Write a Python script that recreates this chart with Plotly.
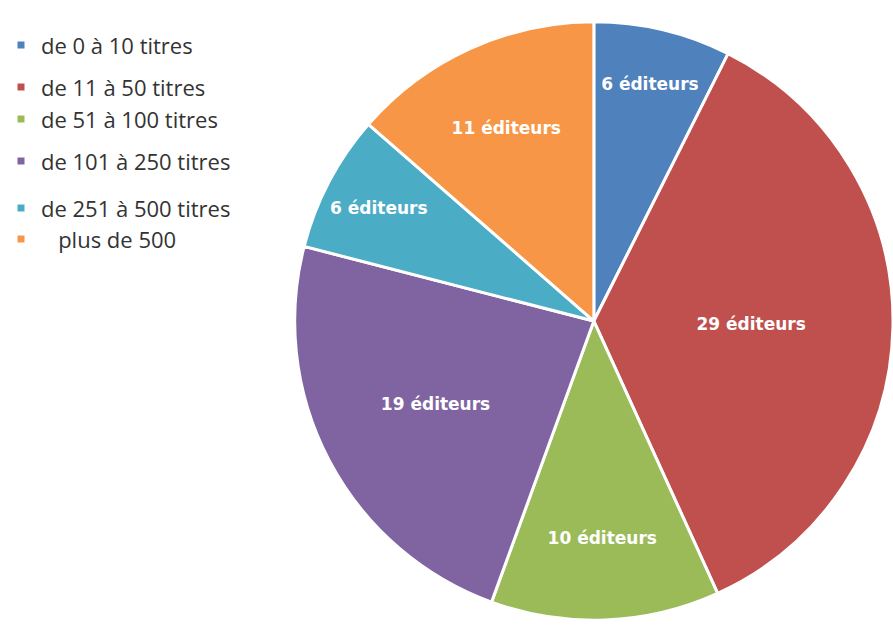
import plotly.graph_objects as go

categories = ["de 0 à 10 titres", "de 11 à 50 titres", "de 51 à 100 titres",
              "de 101 à 250 titres", "de 251 à 500 titres", "\u00a0\u00a0\u00a0plus de 500"]
editeurs = [6, 29, 10, 19, 6, 11]
colors = ["#4F81BD", "#C0504D", "#9BBB59", "#8064A2", "#4BACC6", "#F79646"]

W, H = 893, 627

fig = go.Figure()
fig.add_trace(go.Pie(
    labels=categories,
    values=editeurs,
    sort=False,
    direction="clockwise",
    rotation=0,
    marker=dict(colors=colors, line=dict(color="white", width=3)),
    texttemplate="%{value} éditeurs",
    textposition="inside",
    insidetextorientation="horizontal",
    textfont=dict(family="DejaVu Sans", size=17, color="white", weight="bold"),
    domain=dict(x=[0.33, 1.0], y=[0.0, 0.976]),
    showlegend=False,
    hoverinfo="label+value",
))

# custom legend (irregular spacing as in the original)
legend_y = [45, 87, 119, 161, 208, 239]
annotations = []
shapes = []
for lab, col, py in zip(categories, colors, legend_y):
    yc = 1 - py / H
    shapes.append(dict(type="rect", xref="paper", yref="paper",
                       x0=(21 - 3.5) / W, x1=(21 + 3.5) / W,
                       y0=yc - 3.5 / H, y1=yc + 3.5 / H,
                       fillcolor=col, line=dict(width=0)))
    annotations.append(dict(text=lab, xref="paper", yref="paper",
                            x=39 / W, y=yc, xanchor="left", yanchor="middle",
                            showarrow=False,
                            font=dict(family="Open Sans", size=22, color="#333333")))

fig.update_layout(
    width=W, height=H,
    margin=dict(l=0, r=0, t=0, b=0),
    paper_bgcolor="white",
    plot_bgcolor="white",
    annotations=annotations,
    shapes=shapes,
)

fig.write_html("out.html")
